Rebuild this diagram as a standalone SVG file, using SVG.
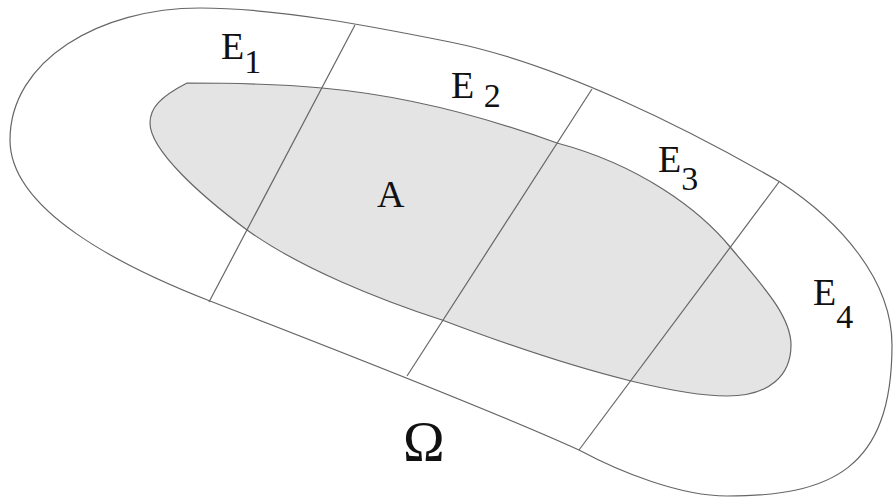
<svg xmlns="http://www.w3.org/2000/svg" width="894" height="498" viewBox="0 0 894 498">
<style>
.ln{fill:none;stroke:#666;stroke-width:1.2}
.lbl{font-family:"Liberation Serif","Times New Roman",serif;font-size:38px;fill:#111}
.sub{font-size:34px}
</style>
<rect width="894" height="498" fill="#fff"/>
<g id="omega">
<path class="ln" d="M 10,140 C 10,60 100,8 200,8 C 280,8 380,28 450,42 C 560,64 690,130 780,182 C 840,221 892,280 892,345 C 892,470 830,496 727,496 C 680,496 620,472 579,450 C 480,405 300,336 210,301 C 120,266 10,210 10,140 Z"/>
</g>
<g id="A">
<path fill="#e4e4e4" stroke="#666" stroke-width="1.2" d="M 187,83 C 250,83 290,85 322,88 C 400,95 480,115 557,143 C 640,165 700,210 731,248 C 760,283 791,315 791,345 C 791,375 770,396 727,396 C 700,396 660,388 631,381 C 570,366 500,342 442,320 C 380,300 300,268 247,230 C 200,195 150,150 150,123 C 150,108 160,97 187,83 Z"/>
</g>
<g id="dividers">
<line class="ln" x1="355" y1="25" x2="209" y2="302"/>
<line class="ln" x1="592" y1="89" x2="407" y2="376"/>
<line class="ln" x1="779" y1="182" x2="579" y2="450"/>
</g>
<g id="labels">
<text class="lbl" x="221" y="59">E<tspan class="sub" dy="14">1</tspan></text>
<text class="lbl" x="451" y="98">E <tspan class="sub" dy="9">2</tspan></text>
<text class="lbl" x="658" y="172">E<tspan class="sub" dy="18">3</tspan></text>
<text class="lbl" x="813" y="305">E<tspan class="sub" dy="23">4</tspan></text>
<text class="lbl" x="377" y="207">A</text>
<text class="lbl" x="403" y="461" style="font-size:56px">Ω</text>
</g>
</svg>
